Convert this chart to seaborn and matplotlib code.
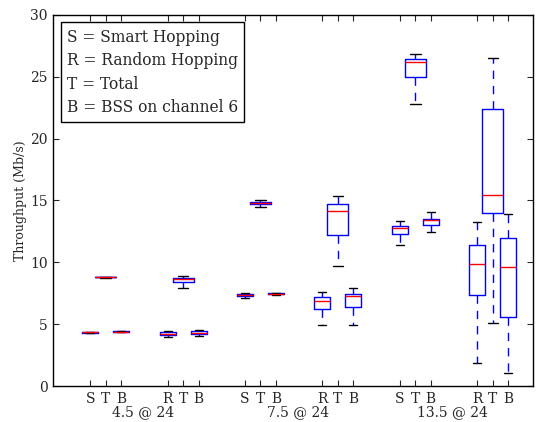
import numpy as np
import pandas as pd
import matplotlib
matplotlib.use("Agg")
import matplotlib.pyplot as plt
import seaborn as sns

# ===================== 数据：每个箱线 [下须, Q1, 中位数, Q3, 上须] =====================
positions = [1, 2, 3, 6, 7, 8, 11, 12, 13, 16, 17, 18, 21, 22, 23, 26, 27, 28]
tick_labels = ["S", "T", "B", "R", "T", "B",
               "S", "T", "B", "R", "T", "B",
               "S", "T", "B", "R", "T", "B"]
group_labels = ["4.5 @ 24", "7.5 @ 24", "13.5 @ 24"]
group_centers = [4.4, 14.4, 24.4]

smart_45 = [[4.29, 4.31, 4.33, 4.35, 4.37],
            [8.76, 8.78, 8.80, 8.82, 8.84],
            [4.36, 4.38, 4.40, 4.42, 4.44]]
random_45 = [[3.95, 4.10, 4.24, 4.36, 4.45],
             [7.95, 8.40, 8.63, 8.76, 8.88],
             [4.02, 4.20, 4.32, 4.42, 4.52]]
smart_75 = [[7.12, 7.24, 7.32, 7.40, 7.50],
            [14.50, 14.70, 14.82, 14.90, 15.08],
            [7.36, 7.40, 7.44, 7.48, 7.52]]
random_75 = [[4.93, 6.20, 6.90, 7.22, 7.62],
             [9.73, 12.21, 14.17, 14.74, 15.38],
             [4.93, 6.39, 7.25, 7.41, 7.95]]
smart_135 = [[11.40, 12.31, 12.77, 12.96, 13.31],
             [22.80, 24.95, 26.17, 26.41, 26.81],
             [12.43, 12.99, 13.40, 13.48, 14.04]]
random_135 = [[1.88, 7.36, 9.89, 11.42, 13.28],
              [5.07, 13.96, 15.47, 22.37, 26.54],
              [1.08, 5.60, 9.60, 11.94, 13.88]]

legend_text = "S = Smart Hopping\nR = Random Hopping\nT = Total\nB = BSS on channel 6"

# ===================== 整理成长表 =====================
all_boxes = smart_45 + random_45 + smart_75 + random_75 + smart_135 + random_135
rows = []
for pos, lab, vals in zip(positions, tick_labels, all_boxes):
    for v in vals:
        rows.append({"pos": pos, "kind": lab, "value": v})
df = pd.DataFrame(rows)
df_total = df[df["kind"] == "T"]
df_other = df[df["kind"] != "T"]

# ===================== 绘图 =====================
sns.set_style("ticks")
plt.rcParams["font.family"] = ["DejaVu Serif"]
plt.rcParams["xtick.direction"] = "in"
plt.rcParams["ytick.direction"] = "in"

fig = plt.figure(figsize=(5.37, 4.22), dpi=100)
ax = fig.add_axes([0.0987, 0.0853, 0.8939, 0.8792])

box_kw = dict(
    x="pos", y="value", native_scale=True, fill=False, whis=(0, 100),
    showfliers=False, linewidth=1,
    boxprops=dict(color="blue", linewidth=1),
    whiskerprops=dict(color="blue", linestyle="--", linewidth=1, dashes=(6, 5)),
    capprops=dict(color="black", linewidth=1),
    medianprops=dict(color="red", linewidth=1),
)
# T 箱体更宽（本地刻度中最小间距为5），其余最小间距为2
sns.boxplot(data=df_total, ax=ax, width=1.35 / 5, **box_kw)
sns.boxplot(data=df_other, ax=ax, width=1.04 / 2, **box_kw)

ax.set_xlim(-1.4, 29.6)
ax.set_ylim(0, 30)
ax.set_yticks([0, 5, 10, 15, 20, 25, 30])
ax.set_xticks(positions)
ax.set_xticklabels(tick_labels)
ax.set_xticks(group_centers, minor=True)
ax.set_xticklabels(group_labels, minor=True)
ax.set_xlabel("")
ax.set_ylabel("Throughput (Mb/s)", fontsize=9, labelpad=2)
ax.tick_params(axis="both", which="major", labelsize=10, length=4, width=0.8,
               top=True, right=True, pad=4)
ax.tick_params(axis="x", which="minor", labelsize=10, length=0, pad=14)
for s in ax.spines.values():
    s.set_visible(True)
    s.set_linewidth(1)
    s.set_color("black")

ax.text(0.029, 0.963, legend_text, transform=ax.transAxes, fontsize=11.2,
        va="top", ha="left", linespacing=1.5,
        bbox=dict(boxstyle="square,pad=0.4", fc="white", ec="black", lw=1))

fig.savefig("out.png", dpi=100)
